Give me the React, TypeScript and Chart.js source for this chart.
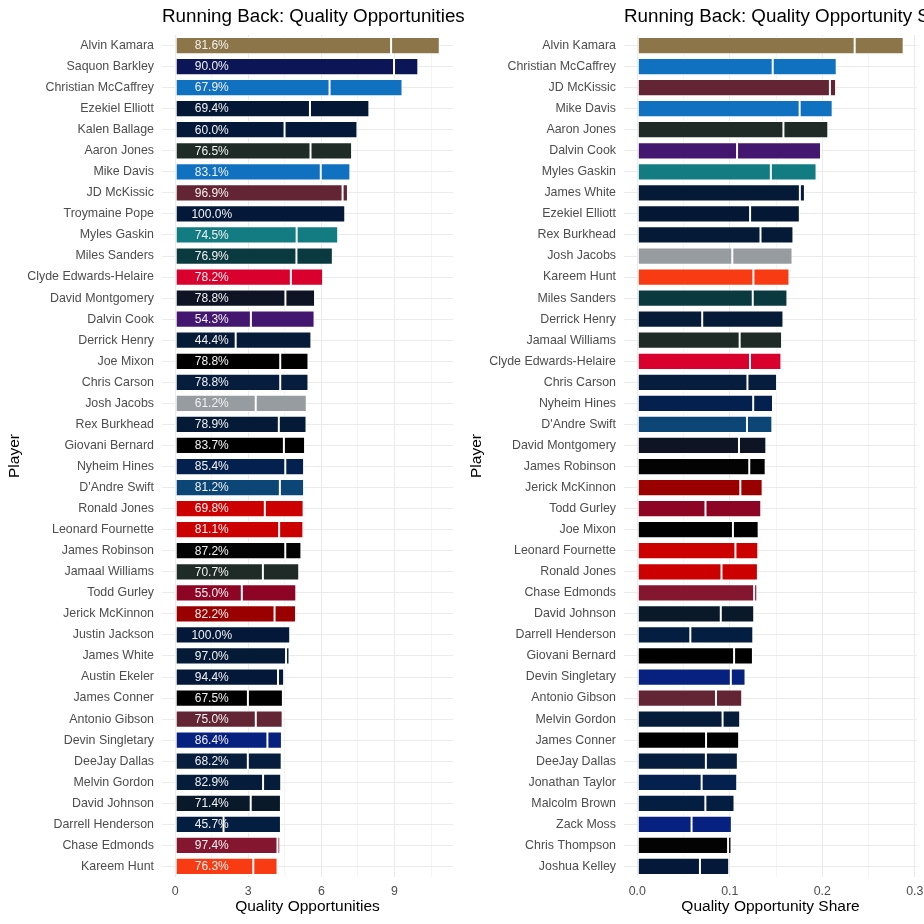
import React, { useEffect, useRef } from 'react';
import { Chart, registerables } from 'chart.js';
Chart.register(...registerables);

// ---------- Left panel data: Quality Opportunities ----------
const leftPlayers = [
  'Alvin Kamara', 'Saquon Barkley', 'Christian McCaffrey', 'Ezekiel Elliott', 'Kalen Ballage',
  'Aaron Jones', 'Mike Davis', 'JD McKissic', 'Troymaine Pope', 'Myles Gaskin',
  'Miles Sanders', 'Clyde Edwards-Helaire', 'David Montgomery', 'Dalvin Cook', 'Derrick Henry',
  'Joe Mixon', 'Chris Carson', 'Josh Jacobs', 'Rex Burkhead', 'Giovani Bernard',
  'Nyheim Hines', "D'Andre Swift", 'Ronald Jones', 'Leonard Fournette', 'James Robinson',
  'Jamaal Williams', 'Todd Gurley', 'Jerick McKinnon', 'Justin Jackson', 'James White',
  'Austin Ekeler', 'James Conner', 'Antonio Gibson', 'Devin Singletary', 'DeeJay Dallas',
  'Melvin Gordon', 'David Johnson', 'Darrell Henderson', 'Chase Edmonds', 'Kareem Hunt',
];
const leftTotals = [
  10.86, 9.98, 9.33, 7.97, 7.48,
  7.26, 7.19, 7.09, 6.98, 6.69,
  6.47, 6.07, 5.74, 5.72, 5.59,
  5.47, 5.47, 5.40, 5.39, 5.33,
  5.29, 5.29, 5.27, 5.26, 5.18,
  5.09, 4.97, 4.96, 4.72, 4.69,
  4.47, 4.42, 4.41, 4.38, 4.37,
  4.35, 4.34, 4.34, 4.31, 4.20,
];
const leftPct = [
  81.6, 90.0, 67.9, 69.4, 60.0,
  76.5, 83.1, 96.9, 100.0, 74.5,
  76.9, 78.2, 78.8, 54.3, 44.4,
  78.8, 78.8, 61.2, 78.9, 83.7,
  85.4, 81.2, 69.8, 81.1, 87.2,
  70.7, 55.0, 82.2, 100.0, 97.0,
  94.4, 67.5, 75.0, 86.4, 68.2,
  82.9, 71.4, 45.7, 97.4, 76.3,
];
const leftColors = [
  '#8C7649', '#0C1656', '#1071C0', '#041835', '#04193A',
  '#1E2B26', '#1071C0', '#632433', '#04193A', '#127C82',
  '#0A3A3F', '#D9002D', '#0E1424', '#43176F', '#051B38',
  '#000000', '#061D3E', '#969C9F', '#041A36', '#000000',
  '#04204F', '#0B4677', '#CC0000', '#CC0000', '#030303',
  '#1E2B26', '#8E0424', '#9B0000', '#04193A', '#041A36',
  '#04193A', '#000000', '#632433', '#062180', '#061D3E',
  '#051C3A', '#09192A', '#041E42', '#84162F', '#F83B12',
];
const leftMajorTicks = [0, 3, 6, 9];
const leftMinorTicks = [1.5, 4.5, 7.5, 10.5];

// ---------- Right panel data: Quality Opportunity Share ----------
const rightPlayers = [
  'Alvin Kamara', 'Christian McCaffrey', 'JD McKissic', 'Mike Davis', 'Aaron Jones',
  'Dalvin Cook', 'Myles Gaskin', 'James White', 'Ezekiel Elliott', 'Rex Burkhead',
  'Josh Jacobs', 'Kareem Hunt', 'Miles Sanders', 'Derrick Henry', 'Jamaal Williams',
  'Clyde Edwards-Helaire', 'Chris Carson', 'Nyheim Hines', "D'Andre Swift", 'David Montgomery',
  'James Robinson', 'Jerick McKinnon', 'Todd Gurley', 'Joe Mixon', 'Leonard Fournette',
  'Ronald Jones', 'Chase Edmonds', 'David Johnson', 'Darrell Henderson', 'Giovani Bernard',
  'Devin Singletary', 'Antonio Gibson', 'Melvin Gordon', 'James Conner', 'DeeJay Dallas',
  'Jonathan Taylor', 'Malcolm Brown', 'Zack Moss', 'Chris Thompson', 'Joshua Kelley',
];
const rightShares = [
  0.288, 0.2156, 0.2149, 0.2112, 0.2065,
  0.1986, 0.1938, 0.1812, 0.1757, 0.1688,
  0.1678, 0.1645, 0.1623, 0.1580, 0.1565,
  0.1558, 0.1511, 0.1467, 0.1460, 0.1395,
  0.1388, 0.1355, 0.1340, 0.1312, 0.1308,
  0.1304, 0.1297, 0.1264, 0.1254, 0.1250,
  0.1170, 0.1134, 0.1112, 0.1101, 0.1087,
  0.1080, 0.1051, 0.1022, 0.1018, 0.0993,
];
const rightPct = [
  81.6, 67.9, 96.9, 83.1, 76.5,
  54.3, 74.5, 97.0, 69.4, 78.9,
  61.2, 76.3, 76.9, 44.4, 70.7,
  78.2, 78.8, 85.4, 81.2, 78.8,
  87.2, 82.2, 55.0, 78.8, 81.1,
  69.8, 97.4, 71.4, 45.7, 83.7,
  86.4, 75.0, 82.9, 67.5, 68.2,
  64.4, 70.0, 57.4, 96.4, 68.2,
];
const rightColors = [
  '#8C7649', '#1071C0', '#632433', '#1071C0', '#1E2B26',
  '#43176F', '#127C82', '#041A36', '#041835', '#041A36',
  '#969C9F', '#F83B12', '#0A3A3F', '#051B38', '#1E2B26',
  '#D9002D', '#061D3E', '#04204F', '#0B4677', '#0E1424',
  '#030303', '#9B0000', '#8E0424', '#000000', '#CC0000',
  '#CC0000', '#84162F', '#09192A', '#041E42', '#000000',
  '#062180', '#632433', '#051C3A', '#000000', '#061D3E',
  '#04204F', '#041E42', '#062180', '#030303', '#04193A',
];
const rightMajorTicks = [0, 0.1, 0.2, 0.3];
const rightMinorTicks = [0.05, 0.15, 0.25];

const FONT = '"Liberation Sans", Arial, Helvetica, sans-serif';

const panelTitlePlugin = {
  id: 'panelTitle',
  afterDraw(chart: any, _args: any, opts: any) {
    const { ctx, chartArea } = chart;
    ctx.save();
    ctx.font = `18.8px ${FONT}`;
    ctx.fillStyle = '#000000';
    ctx.textBaseline = 'middle';
    ctx.textAlign = 'left';
    ctx.fillText(opts.text, chartArea.left, 16.5);
    ctx.restore();
  },
};

const pctLabelPlugin = {
  id: 'pctLabels',
  afterDatasetsDraw(chart: any, _args: any, opts: any) {
    if (!opts || !opts.show) return;
    const { ctx } = chart;
    const xs = chart.scales.x;
    const ys = chart.scales.y;
    ctx.save();
    ctx.font = `12px ${FONT}`;
    ctx.fillStyle = '#F2F2F2';
    ctx.textAlign = 'center';
    ctx.textBaseline = 'middle';
    opts.values.forEach((v: number, i: number) => {
      ctx.fillText(v.toFixed(1) + '%', xs.getPixelForValue(opts.at), ys.getPixelForValue(i) + 0.5);
    });
    ctx.restore();
  },
};

function buildChart(
  canvas: HTMLCanvasElement,
  players: string[],
  totals: number[],
  pct: number[],
  colors: string[],
  major: number[],
  minor: number[],
  xmin: number,
  xmax: number,
  fmt: (v: number) => string,
  title: string,
  xTitle: string,
  rightPad: number,
  showPct: boolean
) {
  const allTicks = [...major, ...minor].sort((a, b) => a - b);
  const isMajor = (v: number) => major.some((m) => Math.abs(m - v) < 1e-9);
  const common = {
    backgroundColor: colors,
    borderColor: '#FFFFFF',
    borderWidth: 1,
    borderSkipped: false,
    barPercentage: 0.82,
    categoryPercentage: 1,
  };
  return new Chart(canvas, {
    type: 'bar',
    data: {
      labels: players,
      datasets: [
        { ...common, data: totals.map((t, i) => (t * pct[i]) / 100) } as any,
        { ...common, data: totals.map((t, i) => t * (1 - pct[i] / 100)) } as any,
      ],
    },
    plugins: [panelTitlePlugin as any, pctLabelPlugin as any],
    options: {
      indexAxis: 'y',
      animation: false,
      responsive: false,
      maintainAspectRatio: false,
      layout: { padding: { top: 35, right: rightPad, left: 0, bottom: 0 } },
      plugins: {
        legend: { display: false },
        tooltip: { enabled: false },
        title: { display: false },
        panelTitle: { text: title },
        pctLabels: { show: showPct, values: pct, at: 1.5 },
      } as any,
      scales: {
        x: {
          type: 'linear',
          stacked: true,
          min: xmin,
          max: xmax,
          afterBuildTicks: (s: any) => {
            s.ticks = allTicks.map((v) => ({ value: v }));
          },
          afterFit: (s: any) => {
            s.height = 47;
            s.paddingLeft = 0;
            s.paddingRight = 0;
          },
          ticks: {
            autoSkip: false,
            maxRotation: 0,
            padding: 7,
            color: '#4D4D4D',
            font: { family: FONT, size: 12.4 },
            callback: (v: any) => (isMajor(Number(v)) ? fmt(Number(v)) : ''),
          },
          grid: {
            drawTicks: false,
            color: (ctx: any) => (ctx.tick && isMajor(ctx.tick.value) ? '#EBEBEB' : '#F4F4F4'),
            lineWidth: 1,
          },
          border: { display: false },
          title: {
            display: true,
            text: xTitle,
            color: '#000000',
            font: { family: FONT, size: 15.5 },
            padding: { top: 0, bottom: 8 },
          },
        },
        y: {
          type: 'category',
          stacked: true,
          offset: true,
          afterFit: (s: any) => {
            s.width = 162;
            s.paddingTop = 0;
            s.paddingBottom = 0;
          },
          ticks: {
            autoSkip: false,
            padding: 8,
            color: '#4D4D4D',
            font: { family: FONT, size: 12.4 },
          },
          grid: { offset: false, drawTicks: false, color: '#EBEBEB', lineWidth: 1 },
          border: { display: false },
          title: {
            display: true,
            text: 'Player',
            color: '#000000',
            font: { family: FONT, size: 15.5 },
            padding: { top: 5, bottom: 0 },
          },
        },
      } as any,
    },
  });
}

export default function App() {
  const leftRef = useRef<HTMLCanvasElement>(null);
  const rightRef = useRef<HTMLCanvasElement>(null);

  useEffect(() => {
    document.body.style.margin = '0';
    const lMax = Math.max(...leftTotals);
    const rMax = Math.max(...rightShares);
    const left = buildChart(
      leftRef.current!,
      leftPlayers, leftTotals, leftPct, leftColors,
      leftMajorTicks, leftMinorTicks,
      -0.05 * lMax, 1.05 * lMax,
      (v) => String(v),
      'Running Back: Quality Opportunities',
      'Quality Opportunities',
      27,
      true
    );
    const right = buildChart(
      rightRef.current!,
      rightPlayers, rightShares, rightPct, rightColors,
      rightMajorTicks, rightMinorTicks,
      -0.05 * rMax, 1.05 * rMax,
      (v) => v.toFixed(1),
      'Running Back: Quality Opportunity Share',
      'Quality Opportunity Share',
      7,
      false
    );
    return () => {
      left.destroy();
      right.destroy();
    };
  }, []);

  return (
    <div style={{ position: 'relative', width: 924, height: 924, background: '#FFFFFF', overflow: 'hidden' }}>
      <canvas ref={leftRef} width={480} height={924} style={{ position: 'absolute', left: 0, top: 0, width: 480, height: 924 }} />
      <canvas ref={rightRef} width={462} height={924} style={{ position: 'absolute', left: 462, top: 0, width: 462, height: 924 }} />
    </div>
  );
}
